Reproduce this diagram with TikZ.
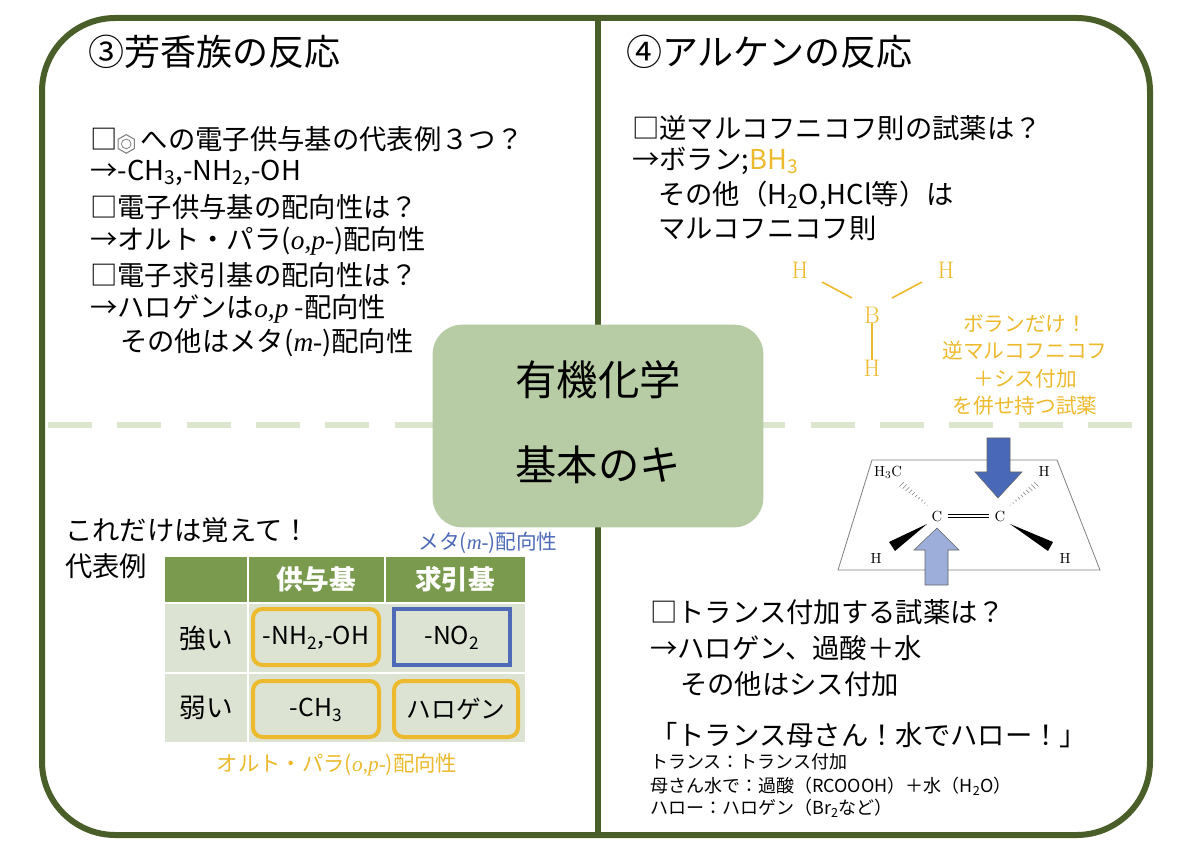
\documentclass[tikz,border=0pt]{standalone}
\usepackage{fontspec}
\setmainfont{Noto Sans CJK JP}
\newfontfamily\ser{Liberation Serif}
\newfontfamily\tms{Latin Modern Roman}
\usetikzlibrary{calc}
\definecolor{framec}{HTML}{4A5E2A}
\definecolor{dashc}{HTML}{DCE6CF}
\definecolor{cbox}{HTML}{B7CCA4}
\definecolor{hdr}{HTML}{7A9A4E}
\definecolor{cell}{HTML}{DCE3D3}
\definecolor{yel}{HTML}{EDBA2E}
\definecolor{blu}{HTML}{4F6BB8}
\definecolor{dblu}{HTML}{4A68B8}
\definecolor{lblu}{HTML}{9DAEDB}
\newcommand{\itx}[1]{{\ser\itshape #1}}
\newcommand{\sbx}[1]{\textsubscript{#1}}
\tikzset{
 x=0.75pt,y=-0.75pt,
 t/.style={anchor=west,inner sep=0pt,font=\fontsize{20.5}{24}\selectfont},
 ti/.style={anchor=west,inner sep=0pt,font=\fontsize{27}{30}\selectfont},
 sm/.style={anchor=west,inner sep=0pt,font=\fontsize{13.5}{15}\selectfont},
 yb/.style={draw=yel,line width=3pt,rounded corners=7pt,fill=cell},
 mol/.style={inner sep=0pt,font=\tms\fontsize{11}{12}\selectfont},
 bh/.style={inner sep=0pt,text=yel,font=\tms\fontsize{18}{20}\selectfont},
 cl/.style={inner sep=0pt,font=\fontsize{18.5}{22}\selectfont},
}
\begin{document}
\begin{tikzpicture}
\useasboundingbox (0,0) rectangle (1200,848);
\fill[white] (0,0) rectangle (1200,848);
% dashed line
\draw[draw=dashc,line width=4.5pt,dash pattern=on 33pt off 19pt] (48,425) -- (1146,425);
\draw[draw=framec,line width=4.5pt,rounded corners=55pt] (42,18) rectangle (1150,835);
\draw[draw=framec,line width=4.5pt] (598,18) -- (598,835);
% center
\node[fill=cbox,rounded corners=22pt,minimum width=248pt,minimum height=152pt] (cen) at (598,426) {};
\node[inner sep=0pt,font=\fontsize{31}{34}\selectfont] (c1) at (598,380) {有機化学};
\node[inner sep=0pt,font=\fontsize{31}{34}\selectfont] (c2) at (598,465) {基本のキ};
% titles
\node[ti] (t3) at (88,52) {③芳香族の反応};
\node[ti] (t4) at (626,52) {④アルケンの反応};
% left top
\node[t] (l1) at (90,140) {□\tikz[x=1pt,y=1pt,baseline=-4pt]{\draw[gray,line width=0.8pt] (30:7)--(90:7)--(150:7)--(210:7)--(270:7)--(330:7)--cycle; \draw[gray,line width=0.6pt] (0,0) circle (3.6);} への電子供与基の代表例３つ？};
\node[t] (l2) at (90,173) {→-CH\sbx{3},-NH\sbx{2},-OH};
\node[t] (l3) at (90,207) {□電子供与基の配向性は？};
\node[t] (l4) at (90,241) {→オルト・パラ(\itx{o,p-})配向性};
\node[t] (l5) at (90,275) {□電子求引基の配向性は？};
\node[t] (l6) at (90,309) {→ハロゲンは\itx{o,p} -配向性};
\node[t] (l7) at (120,343) {その他はメタ(\itx{m-})配向性};
% right top
\node[t] (r1) at (632,128) {□逆マルコフニコフ則の試薬は？};
\node[t] (r2) at (632,161) {→ボラン;\textcolor{yel}{BH\sbx{3}}};
\node[t] (r3) at (658,195) {その他（H\sbx{2}O,HCl等）は};
\node[t] (r4) at (658,228) {マルコフニコフ則};
\node[bh] (h1) at (800,270) {H};
\node[bh] (h2) at (946,270) {H};
\node[bh] (b) at (872,315) {B};
\node[bh] (h3) at (872,368) {H};
\draw[yel,line width=1.2pt] (822,282) -- (852,298);
\draw[yel,line width=1.2pt] (922,282) -- (892,298);
\draw[yel,line width=1.2pt] (b) -- (h3);
\node[align=center,inner sep=0pt,text=yel,font=\fontsize{15.5}{20.5}\selectfont] (bn) at (1025,365) {ボランだけ！\\逆マルコフニコフ\\＋シス付加\\を併せ持つ試薬};
% molecule
\draw[gray,line width=0.6pt] (872,460) coordinate (p1) -- (1057,460) coordinate (p2) -- (1100,570) coordinate (p3) -- (838,570) coordinate (p4) -- cycle;
\node[mol] (ca) at (937,516) {C};
\node[mol] (cb) at (1000,516) {C};
\draw[line width=0.5pt] ([xshift=4pt,yshift=1.2pt]ca.east) -- ([xshift=-4pt,yshift=1.2pt]cb.west);
\draw[line width=0.5pt] ([xshift=4pt,yshift=-1.2pt]ca.east) -- ([xshift=-4pt,yshift=-1.2pt]cb.west);
\node[mol] (hm) at (888,472) {H$_3$C};
\node[mol] (hr) at (1044,471) {H};
\node[mol] (hl) at (876,558) {H};
\node[mol] (hd) at (1065,558) {H};
\fill (927,524) -- (889,542) -- (895,551) -- cycle;
\fill (1010,524) -- (1048,551) -- (1053,542) -- cycle;
\foreach \i in {0,...,9}{
 \draw[gray,line width=0.4pt] ($(928,505)!\i/9!(904,482)$) -- ++(-\i*0.45-0.5,\i*0.45+0.5);
}
\foreach \i in {0,...,9}{
 \draw[gray,line width=0.4pt] ($(1010,505)!\i/9!(1034,482)$) -- ++(\i*0.45+0.5,\i*0.45+0.5);
}
\draw[black!60,fill=dblu,line width=0.4pt] (987,438) -- (1010,438) -- (1010,472) -- (1022,472) -- (998,498) -- (975,472) -- (987,472) -- cycle;
\draw[black!60,fill=lblu,line width=0.4pt] (925,585) -- (948,585) -- (948,550) -- (959,550) -- (937,528) -- (914,550) -- (925,550) -- cycle;
% right bottom
\node[t] (q1) at (650,612) {□トランス付加する試薬は？};
\node[t] (q2) at (650,648) {→ハロゲン、過酸＋水};
\node[t] (q3) at (680,684) {その他はシス付加};
\node[t] (q4) at (650,735) {「トランス母さん！水でハロー！」};
\node[sm] (s1) at (650,762) {トランス：トランス付加};
\node[sm] (s2) at (650,786) {母さん水で：過酸（RCOOOH）＋水（H\sbx{2}O）};
\node[sm] (s3) at (650,808) {ハロー：ハロゲン（Br\sbx{2}など）};
% left bottom
\node[t] (m1) at (65,530) {これだけは覚えて！};
\node[t] (m2) at (65,566) {代表例};
\node[inner sep=0pt,text=blu,font=\fontsize{15.5}{18}\selectfont] (mt) at (488,543) {メタ(\itx{m-})配向性};
\node[inner sep=0pt,text=yel,font=\fontsize{16}{18}\selectfont] (op) at (337,765) {オルト・パラ(\itx{o,p-})配向性};
\fill[hdr] (165,557) rectangle (525,602);
\draw[white,line width=2pt] (248,557) -- (248,602) (385,557) -- (385,602);
\fill[cell] (165,604) rectangle (525,672);
\fill[cell] (165,674) rectangle (525,742);
\draw[white,line width=2pt] (248,604) -- (248,742) (165,673) -- (525,673);
\node[inner sep=0pt,text=white,font=\bfseries\fontsize{20}{22}\selectfont] (hk) at (316,579) {供与基};
\node[inner sep=0pt,text=white,font=\bfseries\fontsize{20}{22}\selectfont] (hq) at (455,579) {求引基};
\node[inner sep=0pt,font=\fontsize{20}{22}\selectfont] (rs) at (206,638) {強い};
\node[inner sep=0pt,font=\fontsize{20}{22}\selectfont] (rw) at (206,708) {弱い};
\draw[yb] (253,609) rectangle (379,665);
\draw[blu,line width=3pt,fill=cell] (394,609) rectangle (510,665);
\draw[yb] (253,681) rectangle (379,737);
\draw[yb] (394,681) rectangle (518,737);
\node[cl] (e1) at (316,638) {-NH\sbx{2},-OH};
\node[cl] (e2) at (452,638) {-NO\sbx{2}};
\node[cl] (e3) at (316,710) {-CH\sbx{3}};
\node[cl] (e4) at (456,709) {ハロゲン};
\end{tikzpicture}
\end{document}
